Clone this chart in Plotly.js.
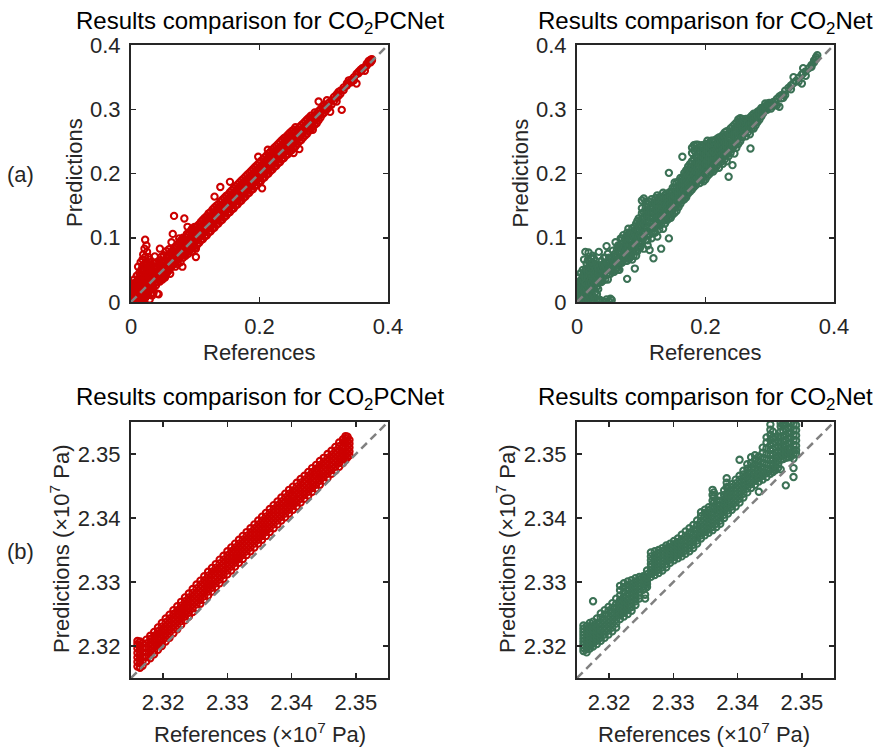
<!DOCTYPE html>
<html>
<head>
<meta charset="utf-8">
<script src="https://cdn.plot.ly/plotly-3.0.1.min.js"></script>
<style>
  html, body { margin: 0; padding: 0; background: #ffffff; }
  #chart { width: 876px; height: 751px; }
</style>
</head>
<body>
<div id="chart"></div>
<script>
// ---- axis ranges and ticks ----
const satRange = [0, 0.4];
const satXTicks = [0, 0.2, 0.4];
const satXLabels = ['0', '0.2', '0.4'];
const satYTicks = [0, 0.1, 0.2, 0.3, 0.4];
const satYLabels = ['0', '0.1', '0.2', '0.3', '0.4'];
const presRange = [2.315, 2.355];
const presTicks = [2.32, 2.33, 2.34, 2.35];
const presLabels = ['2.32', '2.33', '2.34', '2.35'];

// ---- (a) CO2 saturation: [reference, [predictions...]] ----
const satPCNet = [
  [0.001,[0.000,0.006,0.013,0.021]],[0.002,[0.003,0.010,0.029]],[0.003,[0.001,0.008,0.016,0.024]],
  [0.004,[0.005,0.012,0.019]],[0.005,[0.002,0.009,0.027,0.035]],[0.006,[0.004,0.014,0.021]],
  [0.007,[0.001,0.008,0.017,0.026]],[0.008,[0.006,0.012,0.031]],[0.009,[0.000,0.010,0.019,0.041]],
  [0.010,[0.004,0.015,0.023]],[0.011,[0.008,0.019,0.030,0.055]],[0.012,[0.002,0.013,0.026,0.036]],
  [0.013,[0.007,0.017,0.045,0.024]],[0.014,[0.003,0.011,0.021,0.033]],[0.015,[0.041,0.013,0.062,0.001,0.027]],
  [0.016,[0.008,0.018,0.030,0.050]],[0.017,[0.028,0.052,0.003,0.036,0.014]],[0.018,[0.010,0.022,0.043,0.066]],
  [0.019,[0.017,0.074,0.047,0.006,0.030]],[0.020,[0.012,0.025,0.036,0.058]],[0.021,[0.038,0.083,0.024,0.049,0.018]],
  [0.022,[0.097,0.006,0.031,0.070]],[0.023,[0.062,0.031,0.014,0.042]],[0.024,[0.020,0.035,0.053,0.088]],
  [0.025,[0.078,0.045,0.026,0.060]],[0.026,[0.012,0.033,0.048]],[0.027,[0.011,0.070,0.039,0.054,0.024]],
  [0.028,[0.029,0.044,0.062]],[0.029,[0.034,0.057,0.004,0.066,0.020]],[0.030,[0.027,0.040,0.051]],
  [0.031,[0.020,0.048,0.035,0.012]],[0.032,[0.030,0.043,0.058]],[0.033,[0.010,0.025,0.048,0.037]],
  [0.035,[0.022,0.033,0.045,0.060,0.014]],[0.037,[0.030,0.040,0.052,0.071]],[0.039,[0.026,0.037,0.048,0.061]],
  [0.041,[0.031,0.042,0.054,0.013]],[0.043,[0.012,0.036,0.047,0.058]],[0.045,[0.083,0.032,0.041,0.052,0.065]],
  [0.047,[0.037,0.048,0.058,0.070]],[0.049,[0.035,0.044,0.055,0.064]],[0.051,[0.039,0.050,0.061,0.073]],
  [0.053,[0.042,0.053,0.064,0.038]],[0.055,[0.044,0.056,0.068,0.079]],[0.057,[0.047,0.059,0.070]],
  [0.059,[0.049,0.061,0.073,0.082]],[0.061,[0.044,0.053,0.064,0.076]],[0.063,[0.055,0.066,0.078,0.093]],
  [0.065,[0.058,0.069,0.080,0.106]],[0.067,[0.134,0.060,0.072,0.083]],[0.069,[0.062,0.074,0.086,0.055]],
  [0.071,[0.064,0.076,0.088]],[0.073,[0.066,0.078,0.090,0.059]],[0.075,[0.068,0.080,0.092,0.099]],
  [0.077,[0.062,0.071,0.083,0.095]],[0.079,[0.073,0.085,0.097]],[0.080,[0.055]],
  [0.081,[0.069,0.078,0.088,0.100]],[0.083,[0.130,0.074,0.085,0.096]],[0.085,[0.072,0.080,0.090,0.101]],
  [0.087,[0.078,0.087,0.096,0.106]],[0.088,[0.117]],[0.089,[0.075,0.083,0.093,0.104]],
  [0.091,[0.080,0.089,0.098,0.108]],[0.093,[0.082,0.091,0.101,0.111]],[0.095,[0.079,0.087,0.096,0.105,0.114]],
  [0.097,[0.086,0.094,0.103,0.112]],[0.099,[0.084,0.092,0.101,0.110,0.117]],[0.101,[0.070,0.083,0.095,0.106]],
  [0.103,[0.089,0.097,0.105,0.111,0.118]],[0.106,[0.092,0.100,0.107,0.116,0.121]],
  [0.109,[0.096,0.104,0.110,0.117,0.125]],[0.112,[0.098,0.106,0.114,0.121,0.128]],
  [0.115,[0.102,0.109,0.116,0.124,0.131]],[0.118,[0.104,0.113,0.120,0.127,0.134]],
  [0.121,[0.108,0.115,0.122,0.130,0.138]],[0.124,[0.110,0.118,0.126,0.133,0.140]],
  [0.127,[0.114,0.121,0.128,0.136,0.144]],[0.130,[0.116,0.125,0.132,0.139,0.147,0.164]],
  [0.133,[0.120,0.127,0.135,0.142,0.150]],[0.136,[0.122,0.130,0.138,0.146,0.152]],
  [0.139,[0.126,0.134,0.141,0.148,0.156,0.179]],[0.142,[0.128,0.136,0.144,0.151,0.159]],
  [0.145,[0.132,0.139,0.147,0.154,0.162]],[0.148,[0.134,0.142,0.150,0.157,0.165]],
  [0.151,[0.138,0.146,0.153,0.160,0.167]],[0.154,[0.140,0.148,0.156,0.164,0.171,0.187]],
  [0.157,[0.144,0.151,0.159,0.166,0.174]],[0.160,[0.146,0.154,0.162,0.170,0.177]],
  [0.163,[0.150,0.157,0.165,0.172,0.180]],[0.166,[0.152,0.160,0.168,0.175,0.183]],
  [0.169,[0.156,0.163,0.171,0.178,0.186]],[0.172,[0.158,0.166,0.174,0.182,0.189]],
  [0.175,[0.162,0.169,0.177,0.184,0.192]],[0.178,[0.164,0.172,0.180,0.187,0.195]],
  [0.181,[0.168,0.175,0.183,0.190,0.198]],[0.184,[0.170,0.178,0.186,0.193,0.201]],
  [0.187,[0.174,0.181,0.189,0.196,0.204]],[0.190,[0.176,0.184,0.192,0.199,0.207]],
  [0.193,[0.180,0.187,0.195,0.203,0.210]],[0.196,[0.182,0.190,0.198,0.206,0.213]],
  [0.198,[0.226]],[0.199,[0.186,0.193,0.201,0.208,0.216]],[0.202,[0.188,0.196,0.204,0.211,0.219]],
  [0.204,[0.177]],[0.205,[0.192,0.199,0.207,0.214,0.222]],[0.208,[0.194,0.202,0.210,0.217,0.225]],
  [0.211,[0.198,0.205,0.213,0.220,0.228]],[0.213,[0.237]],[0.214,[0.200,0.208,0.216,0.224,0.231]],
  [0.217,[0.204,0.211,0.219,0.227,0.234]],[0.220,[0.206,0.214,0.222,0.230,0.237]],
  [0.223,[0.210,0.217,0.225,0.233,0.240]],[0.226,[0.212,0.220,0.228,0.236,0.243]],
  [0.229,[0.216,0.223,0.231,0.238,0.246]],[0.232,[0.218,0.226,0.234,0.241,0.249]],
  [0.235,[0.222,0.229,0.237,0.244,0.252]],[0.238,[0.224,0.232,0.240,0.247,0.255]],
  [0.241,[0.228,0.235,0.243,0.250,0.257]],[0.244,[0.230,0.238,0.246,0.253,0.260]],
  [0.247,[0.234,0.241,0.249,0.256,0.263]],[0.250,[0.236,0.244,0.252,0.259,0.266]],
  [0.253,[0.232,0.240,0.248,0.255,0.262,0.268]],[0.256,[0.242,0.250,0.258,0.265,0.272]],
  [0.259,[0.246,0.254,0.261,0.268]],[0.262,[0.238,0.250,0.258,0.265,0.272]],
  [0.265,[0.252,0.260,0.268,0.275]],[0.268,[0.256,0.264,0.271,0.278]],
  [0.271,[0.259,0.267,0.274,0.281]],[0.274,[0.262,0.270,0.277,0.284]],
  [0.277,[0.266,0.273,0.280,0.287]],[0.280,[0.269,0.277,0.284,0.290]],
  [0.283,[0.268,0.274,0.281,0.288]],[0.286,[0.276,0.283,0.290,0.295]],
  [0.289,[0.278,0.286,0.293]],[0.292,[0.312,0.283,0.290,0.297]],[0.295,[0.287,0.294,0.300]],
  [0.298,[0.292,0.298,0.304]],[0.301,[0.295,0.302,0.307]],[0.305,[0.314,0.300,0.306]],
  [0.308,[0.303,0.310]],[0.310,[0.296]],[0.312,[0.307,0.314]],[0.316,[0.313,0.319]],
  [0.320,[0.312,0.318,0.323]],[0.323,[0.327,0.321]],[0.326,[0.329,0.324]],[0.328,[0.299]],
  [0.331,[0.334,0.330]],[0.336,[0.340,0.337]],[0.339,[0.345,0.341]],[0.343,[0.346,0.342]],
  [0.347,[0.350,0.345]],[0.351,[0.340,0.355]],[0.354,[0.358,0.356]],[0.357,[0.361,0.359]],
  [0.360,[0.364,0.362]],[0.364,[0.366,0.360]],[0.367,[0.371,0.368]],[0.370,[0.372,0.375]],
  [0.373,[0.377,0.373]],[0.375,[0.378,0.376]]
];

const satNet = [
  [0.001,[0.002,0.009,0.016,0.024]],[0.002,[0.005,0.012,0.020,0.030]],[0.003,[0.000,0.007,0.014,0.022,0.038]],
  [0.004,[0.004,0.011,0.018,0.027]],[0.005,[0.001,0.009,0.017,0.033]],[0.006,[0.006,0.013,0.021,0.045]],
  [0.007,[0.003,0.010,0.025,0.031]],[0.008,[0.007,0.015,0.022,0.036]],[0.009,[0.002,0.012,0.028,0.050]],
  [0.010,[0.005,0.018,0.033,0.042]],[0.011,[0.009,0.020,0.041,0.066]],[0.012,[0.001,0.014,0.027,0.047]],
  [0.013,[0.006,0.030,0.078,0.038]],[0.014,[0.011,0.022,0.052]],[0.015,[0.003,0.019,0.049,0.060]],
  [0.016,[0.008,0.026,0.039]],[0.017,[0.013,0.036,0.065,0.045]],[0.018,[0.004,0.077,0.024]],
  [0.019,[0.010,0.031,0.055,0.042]],[0.020,[0.017,0.027,0.048,0.063]],[0.021,[0.006,0.035,0.058]],
  [0.022,[0.014,0.044,0.068,0.024]],[0.023,[0.002,0.030,0.052]],[0.024,[0.020,0.072,0.039,0.061]],
  [0.025,[0.009,0.046,0.033]],[0.026,[0.021,0.056,0.068,0.003]],[0.027,[0.037,0.049,0.026]],
  [0.028,[0.006,0.057,0.029,0.043]],[0.029,[0.016,0.052,0.064]],[0.030,[0.040,0.003,0.033,0.058]],
  [0.031,[0.024,0.047,0.012]],[0.032,[0.036,0.057,0.029]],[0.033,[0.043,0.052,0.020]],
  [0.034,[0.046,0.078,0.033,0.004]],[0.036,[0.048,0.003,0.031,0.040,0.057]],[0.038,[0.064,0.031,0.042,0.050]],
  [0.040,[0.058,0.001,0.040,0.047,0.033]],[0.042,[0.040,0.069,0.052,0.045]],[0.044,[0.000,0.069,0.035,0.057,0.048]],
  [0.046,[0.052,0.004,0.087,0.061,0.043]],[0.048,[0.035,0.075,0.061,0.050]],[0.050,[0.061,0.001,0.044,0.053,0.069]],
  [0.052,[0.044,0.005,0.068,0.058,0.050]],[0.054,[0.068,0.003,0.056,0.062,0.049]],[0.056,[0.056,0.080,0.047,0.065]],
  [0.058,[0.047,0.066,0.058,0.074]],[0.060,[0.066,0.093,0.058,0.051,0.075]],[0.062,[0.060,0.071,0.083,0.053]],
  [0.064,[0.058,0.077,0.050,0.067,0.088]],[0.066,[0.050,0.086,0.069,0.078,0.061]],[0.068,[0.086,0.069,0.099,0.077,0.062]],
  [0.070,[0.099,0.061,0.082,0.072,0.090]],[0.072,[0.082,0.073,0.091,0.065,0.104]],[0.074,[0.076,0.087,0.068,0.097]],
  [0.076,[0.091,0.064,0.080,0.072,0.101]],[0.078,[0.036,0.064,0.080,0.090,0.074,0.108]],[0.080,[0.114,0.085,0.076,0.095,0.068]],
  [0.082,[0.098,0.068,0.089,0.079,0.107]],[0.084,[0.089,0.108,0.080,0.072,0.097]],[0.086,[0.080,0.095,0.066,0.087,0.115]],
  [0.088,[0.090,0.103,0.078,0.110,0.072]],[0.090,[0.052,0.117,0.098,0.085,0.106]],[0.092,[0.072,0.102,0.088,0.113,0.081,0.122]],
  [0.094,[0.126,0.079,0.111,0.096,0.086]],[0.096,[0.111,0.094,0.086,0.119,0.102,0.130]],[0.098,[0.092,0.105,0.084,0.116,0.124]],
  [0.101,[0.158,0.122,0.092,0.108,0.138,0.100,0.130,0.146]],[0.104,[0.161,0.130,0.100,0.115,0.083,0.122,0.140,0.108]],
  [0.107,[0.148,0.119,0.135,0.097,0.108,0.127,0.142,0.156]],[0.110,[0.152,0.126,0.141,0.104,0.088,0.115,0.133,0.096]],
  [0.113,[0.132,0.145,0.117,0.156,0.081,0.125,0.105,0.139]],[0.116,[0.139,0.160,0.124,0.110,0.099,0.148,0.131,0.117]],
  [0.119,[0.068,0.148,0.131,0.115,0.154,0.123,0.140,0.107]],[0.122,[0.143,0.126,0.162,0.108,0.137,0.118,0.150,0.155]],
  [0.125,[0.151,0.133,0.119,0.166,0.102,0.142,0.126,0.158]],[0.128,[0.140,0.157,0.125,0.113,0.147,0.133,0.119,0.163]],
  [0.131,[0.083,0.135,0.163,0.149,0.121,0.142,0.128,0.156]],[0.134,[0.155,0.141,0.128,0.170,0.114,0.148,0.135,0.162]],
  [0.137,[0.146,0.160,0.133,0.122,0.152,0.139,0.167,0.128]],[0.140,[0.168,0.139,0.155,0.127,0.146,0.133,0.161,0.151]],
  [0.143,[0.201,0.099,0.150,0.163,0.136,0.143,0.157,0.130,0.170]],[0.146,[0.158,0.141,0.172,0.131,0.149,0.164,0.137,0.153]],
  [0.149,[0.165,0.144,0.154,0.178,0.136,0.160,0.148,0.171]],[0.152,[0.160,0.147,0.171,0.139,0.186,0.154,0.165,0.177]],
  [0.155,[0.168,0.151,0.179,0.142,0.160,0.173,0.155,0.185]],[0.158,[0.174,0.157,0.148,0.188,0.165,0.180,0.161,0.170]],
  [0.161,[0.180,0.163,0.153,0.170,0.193,0.175,0.186,0.158]],[0.164,[0.226,0.175,0.158,0.186,0.166,0.180,0.192,0.170]],
  [0.167,[0.182,0.170,0.196,0.160,0.175,0.189,0.165,0.201]],[0.170,[0.188,0.175,0.163,0.199,0.167,0.181,0.193,0.205]],
  [0.173,[0.191,0.178,0.206,0.169,0.184,0.197,0.174,0.211]],[0.176,[0.197,0.183,0.172,0.209,0.188,0.202,0.178,0.215]],
  [0.179,[0.240,0.201,0.186,0.175,0.193,0.208,0.181,0.219,0.232]],[0.182,[0.244,0.205,0.190,0.179,0.214,0.198,0.185,0.222,0.236]],
  [0.185,[0.238,0.196,0.211,0.182,0.203,0.190,0.218,0.227,0.245]],[0.188,[0.245,0.202,0.188,0.217,0.193,0.209,0.225,0.234]],
  [0.191,[0.241,0.208,0.194,0.222,0.185,0.215,0.201,0.230]],[0.194,[0.213,0.199,0.228,0.190,0.206,0.220,0.236,0.244]],
  [0.197,[0.218,0.204,0.233,0.195,0.210,0.225,0.241,0.188]],[0.200,[0.224,0.209,0.238,0.198,0.215,0.231,0.246,0.191]],
  [0.203,[0.229,0.214,0.244,0.202,0.220,0.236,0.196,0.251]],[0.206,[0.235,0.219,0.248,0.205,0.225,0.241,0.212,0.199]],
  [0.209,[0.240,0.223,0.251,0.211,0.230,0.245,0.217,0.204]],[0.212,[0.244,0.228,0.203,0.217,0.235,0.251,0.210,0.222]],
  [0.215,[0.238,0.222,0.207,0.231,0.245,0.214,0.252]],[0.218,[0.247,0.230,0.212,0.222,0.239,0.217,0.254]],
  [0.221,[0.241,0.226,0.209,0.234,0.249,0.218,0.256]],[0.224,[0.250,0.236,0.218,0.228,0.243,0.222,0.257]],
  [0.227,[0.244,0.231,0.215,0.253,0.238,0.224,0.260]],[0.230,[0.257,0.240,0.222,0.233,0.248,0.228,0.264]],
  [0.233,[0.248,0.236,0.219,0.260,0.242,0.229,0.266]],[0.236,[0.195,0.253,0.241,0.227,0.247,0.234,0.262]],
  [0.239,[0.262,0.246,0.232,0.255,0.239,0.270]],[0.242,[0.213,0.251,0.238,0.266,0.244,0.259,0.273]],
  [0.245,[0.268,0.256,0.243,0.231,0.250,0.262,0.276]],[0.248,[0.263,0.249,0.272,0.240,0.256,0.279]],
  [0.251,[0.270,0.255,0.246,0.284,0.262,0.277]],[0.254,[0.286,0.261,0.274,0.250,0.267,0.280]],
  [0.257,[0.266,0.279,0.256,0.272,0.285]],[0.260,[0.272,0.262,0.282,0.277,0.267]],
  [0.263,[0.269,0.278,0.258,0.285,0.273]],[0.266,[0.275,0.264,0.283,0.279,0.270]],
  [0.269,[0.281,0.270,0.261,0.287,0.276]],[0.270,[0.239]],[0.272,[0.285,0.276,0.278,0.270,0.290]],
  [0.275,[0.288,0.279,0.270,0.283,0.293]],[0.278,[0.282,0.291,0.275,0.287]],[0.281,[0.296,0.286,0.290,0.280]],
  [0.284,[0.298,0.290,0.284,0.294]],[0.287,[0.302,0.294,0.289,0.298]],[0.290,[0.302,0.294,0.298]],
  [0.293,[0.309,0.299,0.304]],[0.296,[0.303,0.299,0.308]],[0.299,[0.303,0.310,0.306]],
  [0.302,[0.308,0.301,0.305]],[0.305,[0.311,0.306]],[0.308,[0.312,0.306]],[0.311,[0.306,0.316]],
  [0.315,[0.320,0.304]],[0.318,[0.322,0.317]],[0.321,[0.323,0.318]],[0.324,[0.322,0.329]],
  [0.329,[0.333]],[0.333,[0.337,0.331]],[0.337,[0.350,0.341]],[0.341,[0.344]],[0.345,[0.349,0.343]],
  [0.350,[0.340,0.354]],[0.352,[0.364,0.356]],[0.356,[0.359,0.352]],[0.361,[0.364]],
  [0.365,[0.369,0.366]],[0.369,[0.373,0.376]],[0.372,[0.378,0.381]],[0.374,[0.384]]
];

// ---- (b) pressure, ×10^7 Pa: [reference, [predictions...]] ----
const presPCNet = [
  [2.3160,[2.3168,2.3175,2.3182,2.3189,2.3196,2.3203,2.3208]],[2.3164,[2.3166,2.3173,2.3180,2.3187,2.3194,2.3201,2.3207]],
  [2.3168,[2.3169,2.3176,2.3183,2.3190,2.3197,2.3204]],[2.3174,[2.3176,2.3183,2.3190,2.3197,2.3204,2.3210]],
  [2.3180,[2.3181,2.3187,2.3193,2.3199,2.3205,2.3211,2.3216]],[2.3186,[2.3187,2.3193,2.3199,2.3205,2.3211,2.3216,2.3222]],
  [2.3192,[2.3194,2.3200,2.3206,2.3212,2.3218,2.3223,2.3229]],[2.3198,[2.3200,2.3206,2.3212,2.3218,2.3224,2.3230,2.3236]],
  [2.3204,[2.3207,2.3213,2.3219,2.3225,2.3231,2.3237,2.3243]],[2.3210,[2.3213,2.3219,2.3225,2.3231,2.3237,2.3243,2.3249]],
  [2.3216,[2.3220,2.3226,2.3232,2.3238,2.3244,2.3250,2.3256]],[2.3222,[2.3226,2.3232,2.3238,2.3244,2.3250,2.3256,2.3262]],
  [2.3228,[2.3233,2.3239,2.3245,2.3251,2.3257,2.3263,2.3269]],[2.3234,[2.3240,2.3246,2.3252,2.3258,2.3264,2.3270,2.3276]],
  [2.3240,[2.3246,2.3252,2.3258,2.3264,2.3270,2.3276,2.3282]],[2.3246,[2.3253,2.3259,2.3265,2.3271,2.3277,2.3283,2.3289]],
  [2.3252,[2.3259,2.3265,2.3271,2.3277,2.3283,2.3290,2.3296]],[2.3258,[2.3266,2.3272,2.3278,2.3284,2.3290,2.3296,2.3302]],
  [2.3264,[2.3272,2.3278,2.3284,2.3290,2.3297,2.3303,2.3309]],[2.3270,[2.3279,2.3285,2.3291,2.3297,2.3303,2.3310,2.3316]],
  [2.3276,[2.3285,2.3291,2.3297,2.3303,2.3310,2.3316,2.3322]],[2.3282,[2.3292,2.3298,2.3304,2.3310,2.3316,2.3322,2.3328]],
  [2.3288,[2.3298,2.3304,2.3310,2.3316,2.3322,2.3329,2.3335]],[2.3294,[2.3305,2.3311,2.3317,2.3323,2.3329,2.3335,2.3341]],
  [2.3300,[2.3312,2.3318,2.3324,2.3330,2.3336,2.3342,2.3348]],[2.3306,[2.3318,2.3324,2.3330,2.3336,2.3342,2.3348,2.3354]],
  [2.3312,[2.3324,2.3330,2.3336,2.3342,2.3348,2.3354,2.3360]],[2.3318,[2.3330,2.3336,2.3342,2.3348,2.3354,2.3360,2.3366]],
  [2.3324,[2.3336,2.3342,2.3348,2.3354,2.3360,2.3366,2.3372]],[2.3330,[2.3342,2.3348,2.3354,2.3360,2.3366,2.3372,2.3378]],
  [2.3336,[2.3348,2.3354,2.3360,2.3366,2.3372,2.3378,2.3384]],[2.3342,[2.3354,2.3360,2.3366,2.3372,2.3378,2.3384,2.3390]],
  [2.3348,[2.3360,2.3366,2.3372,2.3378,2.3384,2.3390,2.3396]],[2.3354,[2.3366,2.3372,2.3378,2.3384,2.3390,2.3396,2.3402]],
  [2.3360,[2.3372,2.3378,2.3384,2.3390,2.3396,2.3402,2.3408]],[2.3366,[2.3378,2.3384,2.3390,2.3396,2.3402,2.3408,2.3414]],
  [2.3372,[2.3384,2.3390,2.3396,2.3402,2.3408,2.3414,2.3420]],[2.3378,[2.3390,2.3396,2.3402,2.3408,2.3414,2.3420,2.3426]],
  [2.3384,[2.3396,2.3402,2.3408,2.3414,2.3420,2.3426,2.3432]],[2.3390,[2.3401,2.3407,2.3413,2.3419,2.3425,2.3432,2.3438]],
  [2.3396,[2.3407,2.3413,2.3419,2.3425,2.3431,2.3438,2.3444]],[2.3402,[2.3413,2.3419,2.3425,2.3431,2.3437,2.3443,2.3449]],
  [2.3408,[2.3418,2.3424,2.3430,2.3437,2.3443,2.3449,2.3455]],[2.3414,[2.3424,2.3430,2.3436,2.3442,2.3448,2.3455,2.3461]],
  [2.3420,[2.3430,2.3436,2.3442,2.3448,2.3454,2.3460,2.3466]],[2.3426,[2.3435,2.3441,2.3447,2.3453,2.3460,2.3466,2.3472]],
  [2.3432,[2.3441,2.3447,2.3453,2.3459,2.3465,2.3472,2.3478]],[2.3438,[2.3446,2.3452,2.3459,2.3465,2.3471,2.3477,2.3483]],
  [2.3444,[2.3452,2.3458,2.3464,2.3470,2.3477,2.3483,2.3489]],[2.3450,[2.3458,2.3464,2.3470,2.3476,2.3482,2.3488,2.3494]],
  [2.3456,[2.3463,2.3469,2.3475,2.3482,2.3488,2.3494,2.3500]],[2.3462,[2.3469,2.3475,2.3481,2.3487,2.3493,2.3499,2.3505]],
  [2.3468,[2.3474,2.3480,2.3487,2.3493,2.3499,2.3505,2.3511]],[2.3474,[2.3480,2.3486,2.3492,2.3498,2.3505,2.3512,2.3518]],
  [2.3480,[2.3486,2.3492,2.3498,2.3504,2.3511,2.3518,2.3523]],[2.3484,[2.3491,2.3497,2.3503,2.3510,2.3517,2.3524,2.3528]],
  [2.3487,[2.3495,2.3501,2.3507,2.3513,2.3520,2.3527]],[2.3490,[2.3498,2.3504,2.3510,2.3516,2.3522]]
];

const presNet = [
  [2.3160,[2.3192,2.3197,2.3202,2.3207,2.3212,2.3217,2.3222,2.3227,2.3232]],
  [2.3165,[2.3190,2.3195,2.3200,2.3205,2.3210,2.3215,2.3220,2.3226,2.3231]],
  [2.3170,[2.3196,2.3201,2.3206,2.3211,2.3216,2.3221,2.3226,2.3231,2.3236]],
  [2.3175,[2.3199,2.3204,2.3209,2.3214,2.3219,2.3225,2.3231,2.3238,2.3270]],
  [2.3181,[2.3203,2.3208,2.3213,2.3218,2.3224,2.3230,2.3236,2.3243]],
  [2.3187,[2.3208,2.3213,2.3219,2.3225,2.3231,2.3237,2.3244,2.3251]],
  [2.3193,[2.3213,2.3218,2.3224,2.3230,2.3236,2.3242,2.3249,2.3256]],
  [2.3199,[2.3218,2.3224,2.3230,2.3236,2.3242,2.3248,2.3255,2.3261]],
  [2.3205,[2.3223,2.3229,2.3235,2.3241,2.3247,2.3253,2.3260,2.3267]],
  [2.3211,[2.3229,2.3235,2.3241,2.3247,2.3253,2.3259,2.3266,2.3274]],
  [2.3217,[2.3242,2.3248,2.3254,2.3260,2.3266,2.3272,2.3279,2.3287,2.3294]],
  [2.3223,[2.3246,2.3252,2.3258,2.3264,2.3270,2.3277,2.3284,2.3292,2.3298]],
  [2.3229,[2.3250,2.3256,2.3262,2.3268,2.3274,2.3281,2.3288,2.3295,2.3301]],
  [2.3235,[2.3255,2.3261,2.3267,2.3273,2.3279,2.3285,2.3291,2.3297,2.3303]],
  [2.3241,[2.3264,2.3270,2.3276,2.3282,2.3288,2.3294,2.3300,2.3306]],
  [2.3247,[2.3274,2.3279,2.3284,2.3289,2.3294,2.3299,2.3304,2.3308]],
  [2.3253,[2.3288,2.3293,2.3298,2.3303,2.3309]],
  [2.3256,[2.3274,2.3280,2.3290,2.3296,2.3302,2.3308]],
  [2.3259,[2.3292,2.3297,2.3302,2.3307,2.3312,2.3318]],
  [2.3265,[2.3308,2.3313,2.3318,2.3323,2.3328,2.3334,2.3340,2.3346]],
  [2.3271,[2.3311,2.3316,2.3321,2.3326,2.3331,2.3337,2.3342,2.3348]],
  [2.3277,[2.3314,2.3319,2.3324,2.3329,2.3334,2.3340,2.3345,2.3350]],
  [2.3283,[2.3318,2.3323,2.3328,2.3333,2.3338,2.3343,2.3348,2.3353]],
  [2.3289,[2.3323,2.3328,2.3333,2.3338,2.3343,2.3348,2.3353,2.3357]],
  [2.3295,[2.3330,2.3335,2.3340,2.3345,2.3350,2.3355,2.3360]],
  [2.3301,[2.3334,2.3339,2.3344,2.3349,2.3354,2.3359,2.3364]],
  [2.3307,[2.3337,2.3342,2.3347,2.3352,2.3357,2.3362,2.3368]],
  [2.3313,[2.3340,2.3345,2.3350,2.3355,2.3361,2.3367,2.3374]],
  [2.3319,[2.3344,2.3349,2.3354,2.3360,2.3366,2.3372,2.3379]],
  [2.3325,[2.3348,2.3353,2.3358,2.3364,2.3370,2.3377,2.3384]],
  [2.3331,[2.3353,2.3358,2.3363,2.3369,2.3375,2.3382,2.3389]],
  [2.3337,[2.3360,2.3365,2.3370,2.3376,2.3382,2.3389,2.3396]],
  [2.3343,[2.3368,2.3373,2.3378,2.3384,2.3390,2.3396,2.3403,2.3409]],
  [2.3349,[2.3373,2.3378,2.3384,2.3390,2.3396,2.3402,2.3408,2.3413]],
  [2.3355,[2.3377,2.3382,2.3388,2.3394,2.3400,2.3406,2.3412,2.3417]],
  [2.3361,[2.3381,2.3386,2.3392,2.3398,2.3404,2.3410,2.3418,2.3427,2.3436,2.3444]],
  [2.3363,[2.3440,2.3433,2.3424,2.3415]],
  [2.3367,[2.3386,2.3391,2.3397,2.3403,2.3409,2.3415,2.3421,2.3428]],
  [2.3373,[2.3391,2.3396,2.3402,2.3408,2.3414,2.3420,2.3427,2.3434]],
  [2.3379,[2.3400,2.3405,2.3411,2.3417,2.3423,2.3429,2.3436,2.3443]],
  [2.3383,[2.3462,2.3455,2.3448]],
  [2.3385,[2.3407,2.3412,2.3418,2.3424,2.3430,2.3436,2.3442,2.3448]],
  [2.3391,[2.3413,2.3418,2.3424,2.3430,2.3436,2.3442,2.3448,2.3453]],
  [2.3397,[2.3418,2.3424,2.3430,2.3436,2.3442,2.3448,2.3454,2.3460]],
  [2.3403,[2.3424,2.3430,2.3436,2.3442,2.3448,2.3454,2.3460,2.3466,2.3491]],
  [2.3409,[2.3432,2.3438,2.3444,2.3450,2.3456,2.3462,2.3468,2.3474]],
  [2.3415,[2.3440,2.3446,2.3452,2.3458,2.3464,2.3470,2.3477,2.3484]],
  [2.3421,[2.3447,2.3453,2.3459,2.3465,2.3471,2.3478,2.3486,2.3495]],
  [2.3427,[2.3452,2.3458,2.3464,2.3470,2.3477,2.3484,2.3491,2.3498]],
  [2.3433,[2.3441,2.3457,2.3463,2.3469,2.3475,2.3482,2.3489,2.3496]],
  [2.3439,[2.3460,2.3466,2.3472,2.3479,2.3486,2.3494,2.3502,2.3510]],
  [2.3445,[2.3464,2.3470,2.3477,2.3484,2.3492,2.3500,2.3509,2.3518,2.3526]],
  [2.3451,[2.3469,2.3475,2.3482,2.3490,2.3498,2.3506,2.3514,2.3522,2.3530,2.3538,2.3546]],
  [2.3455,[2.3472,2.3478,2.3485,2.3492,2.3500,2.3508,2.3517,2.3526,2.3535]],
  [2.3459,[2.3475,2.3481,2.3488,2.3495,2.3502,2.3510,2.3518,2.3526]],
  [2.3463,[2.3478,2.3484,2.3490,2.3497,2.3504,2.3511,2.3519,2.3527]],
  [2.3467,[2.3476,2.3491,2.3497,2.3504,2.3511,2.3519,2.3527,2.3535,2.3543,2.3548]],
  [2.3471,[2.3492,2.3498,2.3505,2.3512,2.3520,2.3528,2.3536,2.3544,2.3548]],
  [2.3475,[2.3451,2.3494,2.3500,2.3507,2.3514,2.3522,2.3530,2.3538,2.3546]],
  [2.3479,[2.3495,2.3501,2.3508,2.3516,2.3524,2.3532,2.3540,2.3548]],
  [2.3483,[2.3496,2.3502,2.3509,2.3517,2.3525,2.3533,2.3541,2.3548]],
  [2.3487,[2.3464,2.3478,2.3493,2.3499,2.3506,2.3514,2.3522,2.3530,2.3538,2.3546]],
  [2.3491,[2.3500,2.3506,2.3513,2.3521,2.3529,2.3537,2.3545]]
];

// ---- styling ----
const RED = '#cc0000';
const GREEN = '#3b7155';
const INK = '#262626';
const FONT = '"Liberation Sans", Arial, Helvetica, sans-serif';
const W = 876, H = 751;
const fx = p => p / W;
const fy = p => 1 - p / H;

// panel frames in pixels
const frames = [
  { l: 131, r: 388, t: 45, b: 302 },
  { l: 577, r: 834, t: 45, b: 302 },
  { l: 131, r: 388, t: 422, b: 678 },
  { l: 577, r: 834, t: 422, b: 678 }
];

function flatten(groups) {
  const x = [], y = [];
  groups.forEach(([ref, preds]) => preds.forEach(p => { x.push(ref); y.push(p); }));
  return { x, y };
}

function axis(domain, range, tickvals, ticktext, anchor) {
  return {
    domain, range, anchor, tickmode: 'array', tickvals, ticktext,
    ticks: 'inside', ticklen: 5, tickwidth: 1.5, tickcolor: INK,
    showline: true, linecolor: INK, linewidth: 2, mirror: 'ticks',
    showgrid: false, zeroline: false, fixedrange: true,
    tickfont: { family: FONT, size: 22, color: INK },
    ticklabelstandoff: 4
  };
}

const panels = [
  { data: satPCNet, color: RED, range: satRange },
  { data: satNet, color: GREEN, range: satRange },
  { data: presPCNet, color: RED, range: presRange },
  { data: presNet, color: GREEN, range: presRange }
];

const traces = [];
panels.forEach((pn, i) => {
  const ax = i === 0 ? '' : String(i + 1);
  const pts = flatten(pn.data);
  traces.push({
    type: 'scatter', mode: 'markers', x: pts.x, y: pts.y,
    xaxis: 'x' + ax, yaxis: 'y' + ax, hoverinfo: 'skip',
    marker: { symbol: 'circle-open', size: 6.3, color: pn.color, line: { width: 2.1, color: pn.color } }
  });
  // y = x reference diagonal
  traces.push({
    type: 'scatter', mode: 'lines', x: pn.range, y: pn.range,
    xaxis: 'x' + ax, yaxis: 'y' + ax, hoverinfo: 'skip',
    line: { color: '#808080', width: 2.5, dash: '8px,5px' }
  });
});

const layout = {
  width: W, height: H, margin: { l: 0, r: 0, t: 0, b: 0 },
  paper_bgcolor: '#ffffff', plot_bgcolor: '#ffffff', showlegend: false,
  font: { family: FONT, color: INK }
};

frames.forEach((f, i) => {
  const ax = i === 0 ? '' : String(i + 1);
  const isSat = i < 2;
  layout['xaxis' + ax] = axis([fx(f.l), fx(f.r)], isSat ? satRange : presRange,
    isSat ? satXTicks : presTicks, isSat ? satXLabels : presLabels, 'y' + ax);
  layout['yaxis' + ax] = axis([fy(f.b), fy(f.t)], isSat ? satRange : presRange,
    isSat ? satYTicks : presTicks, isSat ? satYLabels : presLabels, 'x' + ax);
});

function note(text, x, y, extra) {
  return Object.assign({
    text, x: fx(x), y: fy(y), xref: 'paper', yref: 'paper', showarrow: false,
    xanchor: 'center', yanchor: 'middle',
    font: { family: FONT, size: 22, color: INK }
  }, extra || {});
}

const titleFont = { family: FONT, size: 24, color: '#000000' };
const unit = ' (\u00d710<sup>7</sup> Pa)';
layout.annotations = [
  note('Results comparison for CO<sub>2</sub>PCNet', 259.5, 22, { font: titleFont }),
  note('Results comparison for CO<sub>2</sub>Net', 705.5, 22, { font: titleFont }),
  note('Results comparison for CO<sub>2</sub>PCNet', 259.5, 399, { font: titleFont }),
  note('Results comparison for CO<sub>2</sub>Net', 705.5, 399, { font: titleFont }),
  note('References', 259.5, 352, {}),
  note('References', 705, 352, {}),
  note('References' + unit, 259.5, 733, {}),
  note('References' + unit, 704, 733, {}),
  note('Predictions', 75, 173, { textangle: -90 }),
  note('Predictions', 520.5, 173, { textangle: -90 }),
  note('Predictions' + unit, 60, 549, { textangle: -90 }),
  note('Predictions' + unit, 506, 549, { textangle: -90 }),
  note('(a)', 20, 175, {}),
  note('(b)', 20, 551, {})
];

Plotly.newPlot('chart', traces, layout, { staticPlot: true, displayModeBar: false });
</script>
</body>
</html>
